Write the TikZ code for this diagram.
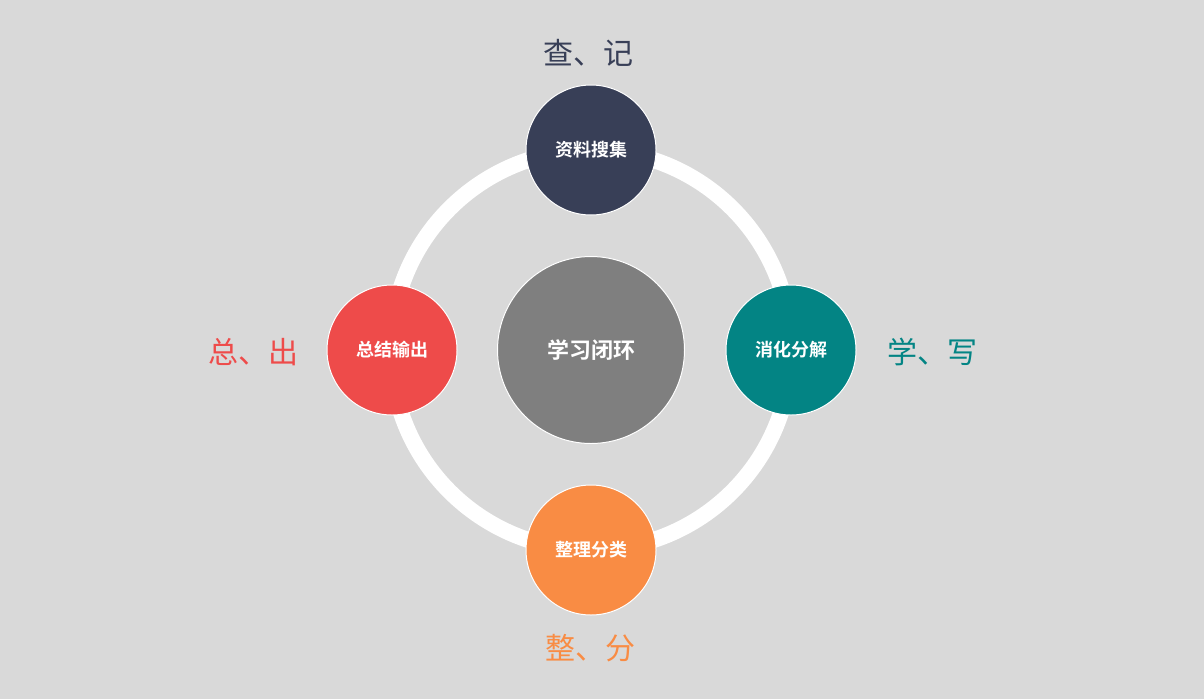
\documentclass[tikz,border=0pt]{standalone}
\usepackage{fontspec}
\newfontfamily\cjk{Noto Sans CJK SC}
\newfontfamily\cjkb{Noto Sans CJK SC Bold}
\definecolor{bg}{HTML}{D9D9D9}
\definecolor{cTop}{HTML}{383F57}
\definecolor{cRight}{HTML}{038484}
\definecolor{cLeft}{HTML}{EE4B4A}
\definecolor{cBot}{HTML}{F98C44}
\definecolor{cMid}{HTML}{7F7F7F}
\tikzset{
  ball/.style={circle,draw=white,line width=1pt,minimum size=130pt,inner sep=0pt,text=white,font=\cjkb\fontsize{18}{20}\selectfont},
  tag/.style={font=\cjk\fontsize{30}{32}\selectfont}
}
\begin{document}
\begin{tikzpicture}[x=1pt,y=-1pt]
\fill[bg] (0,0) rectangle (1204,699);
\useasboundingbox (0,0) rectangle (1204,699);
\coordinate (c) at (591,350);
\draw[white,line width=16pt] (c) circle[radius=200];
\node[ball,fill=cMid,minimum size=187pt,font=\cjkb\fontsize{22}{24}\selectfont] (mid) at (c) {学习闭环};
\node[ball,fill=cTop] (top) at (591,150) {资料搜集};
\node[ball,fill=cRight] (right) at (791,350) {消化分解};
\node[ball,fill=cLeft] (left) at (392,350) {总结输出};
\node[ball,fill=cBot] (bot) at (591,550) {整理分类};
\node[tag,text=cTop] (ttop) at (588,53) {查、记};
\node[tag,text=cRight] (tright) at (932,352) {学、写};
\node[tag,text=cLeft] (tleft) at (253,352) {总、出};
\node[tag,text=cBot] (tbot) at (590,648) {整、分};
\end{tikzpicture}
\end{document}
